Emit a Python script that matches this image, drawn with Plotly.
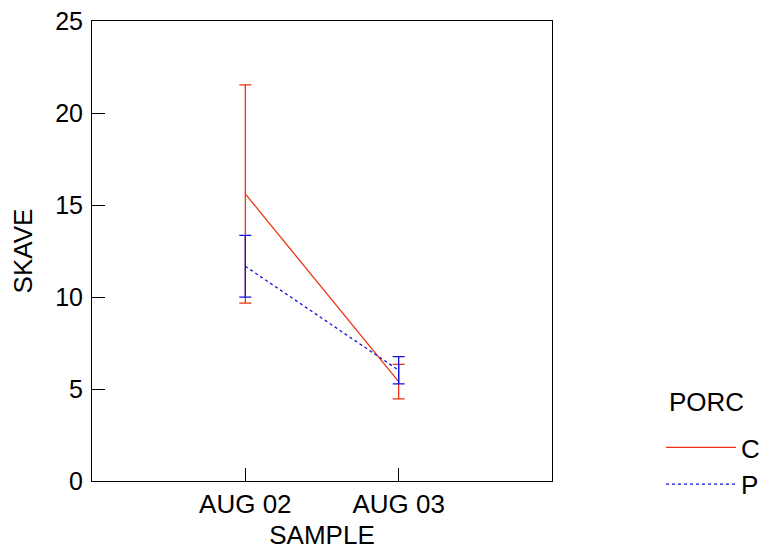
import plotly.graph_objects as go

samples = ["AUG 02", "AUG 03"]
c_mean = [15.6, 5.4]
c_err = [5.93, 0.94]
p_mean = [11.67, 6.02]
p_err = [1.68, 0.74]

RED = "#ee3311"
BLUE = "#1010dd"
FONT = dict(family="Liberation Sans, Arial, sans-serif", size=26, color="black")
TFONT = dict(family="Liberation Sans, Arial, sans-serif", size=25, color="black")

fig = go.Figure()
fig.add_trace(go.Scatter(
    x=samples, y=c_mean, name="C", mode="lines",
    line=dict(color=RED, width=1.3),
    error_y=dict(type="data", array=c_err, visible=True, color=RED, thickness=1.3, width=6),
))
fig.add_trace(go.Scatter(
    x=samples, y=p_mean, name="P", mode="lines",
    line=dict(color=BLUE, width=1.3, dash="dot"),
    error_y=dict(type="data", array=p_err, visible=True, color=BLUE, thickness=1.3, width=6),
))

fig.add_annotation(
    text="PORC", xref="paper", yref="paper", x=(667 - 92) / 460, y=(481 - 402) / 460,
    xanchor="left", yanchor="middle", showarrow=False, font=FONT,
)

fig.update_layout(
    width=771, height=544,
    margin=dict(l=84, r=227, t=13, b=71, autoexpand=False),
    paper_bgcolor="white", plot_bgcolor="white",
    font=FONT,
    showlegend=True,
    legend=dict(
        x=(661 - 92) / 460, y=(481 - 424) / 460, xanchor="left", yanchor="top",
        itemwidth=70, tracegroupgap=0, font=FONT,
        bgcolor="rgba(0,0,0,0)",
    ),
    xaxis=dict(
        type="category", range=[-1, 2],
        showline=True, linecolor="black", linewidth=1, mirror=True,
        ticks="inside", ticklen=13, tickcolor="black",
        showgrid=False, zeroline=False,
        title=dict(text="SAMPLE", font=FONT, standoff=7),
        tickfont=FONT,
    ),
    yaxis=dict(
        range=[0, 25], tickvals=[0, 5, 10, 15, 20, 25],
        showline=True, linecolor="black", linewidth=1, mirror=True,
        ticks="inside", ticklen=13, tickcolor="black",
        showgrid=False, zeroline=False,
        ticklabelstandoff=3, ticklabeloverflow="allow",
        title=dict(text="SKAVE", font=FONT, standoff=22),
        tickfont=TFONT,
    ),
)

fig.write_html("out.html")
